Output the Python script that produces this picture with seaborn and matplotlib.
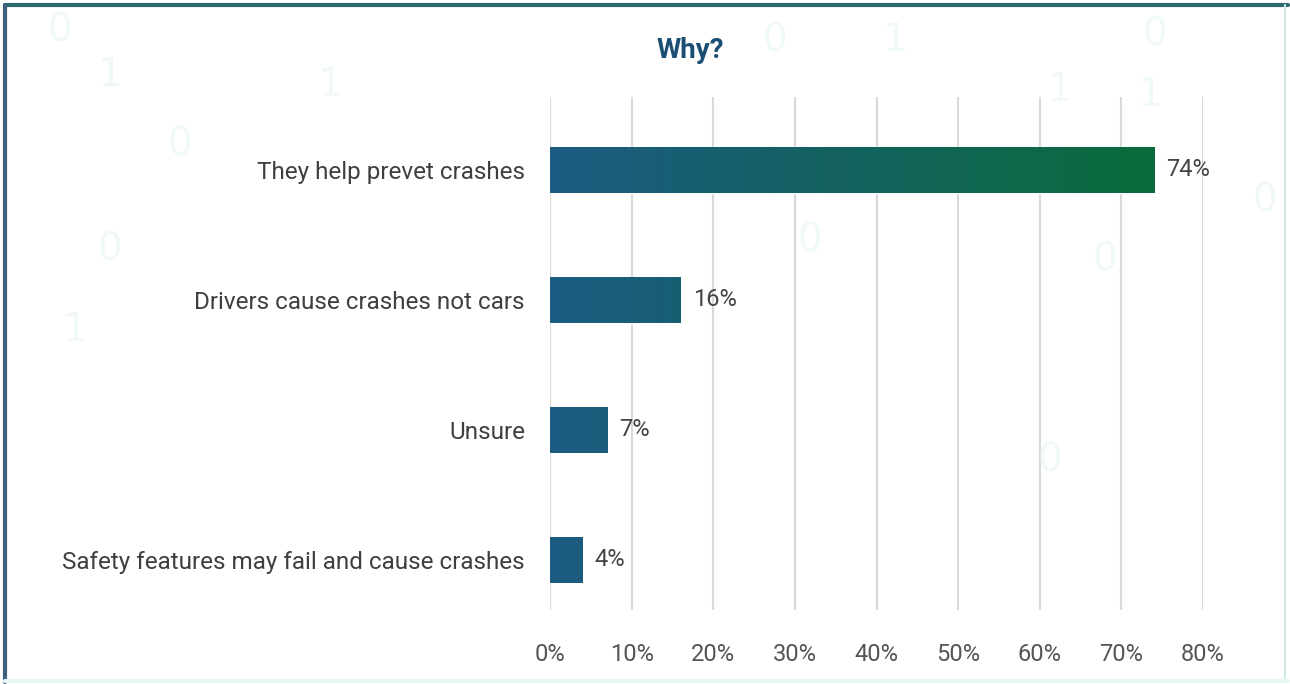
import numpy as np
import pandas as pd
import matplotlib
matplotlib.use("Agg")
import matplotlib.pyplot as plt
from matplotlib.colors import LinearSegmentedColormap
from matplotlib.lines import Line2D
import seaborn as sns

# Survey answers and shares (%)
reasons = [
    "They help prevet crashes",
    "Drivers cause crashes not cars",
    "Unsure",
    "Safety features may fail and cause crashes",
]
shares = [74, 16, 7, 4]
tick_values = [0, 10, 20, 30, 40, 50, 60, 70, 80]
tick_labels = ["0%", "10%", "20%", "30%", "40%", "50%", "60%", "70%", "80%"]
title = "Why?"

df = pd.DataFrame({"reason": reasons, "share": shares})

sns.set_theme(style="white")
plt.rcParams["font.family"] = ["Roboto", "DejaVu Sans"]

fig = plt.figure(figsize=(12.9, 6.84), dpi=100)
fig.patch.set_facecolor("white")
ax = fig.add_axes([550 / 1290, 74 / 684, 653 / 1290, 513 / 684])

# faint binary digits in the background
digits = [("0", 60, 30), ("1", 110, 75), ("0", 180, 145), ("1", 330, 85),
          ("0", 110, 250), ("0", 775, 40), ("1", 895, 40), ("0", 1155, 35),
          ("1", 1150, 95), ("0", 1265, 200), ("0", 1105, 260), ("1", 75, 330),
          ("0", 810, 240), ("1", 1060, 90), ("0", 1050, 460)]
for d, px, py in digits:
    fig.text(px / 1290, 1 - py / 684, d, fontsize=28, color="#f0f9f7",
             ha="center", va="center", zorder=0, family=["DejaVu Sans"])

bar_color = "#1d5e80"
sns.barplot(data=df, x="share", y="reason", orient="h", color=bar_color,
            width=0.35, saturation=1, ax=ax, zorder=3)

# blue-to-green gradient along the x axis, clipped to each bar
cmap = LinearSegmentedColormap.from_list("bg", ["#1c5b82", "#0a6b3b"])
grad = np.linspace(0, 1, 256).reshape(1, -1)
vmax = max(shares)
for patch in ax.patches:
    y0 = patch.get_y()
    h = patch.get_height()
    im = ax.imshow(grad, cmap=cmap, aspect="auto",
                   extent=[0, vmax, y0 + h, y0], zorder=4)
    im.set_clip_path(patch)

for i, v in enumerate(shares):
    ax.text(v + 1.5, i, f"{v}%", va="center", ha="left", fontsize=17,
            color="#444444", zorder=5)

ax.set_xlim(0, 80)
ax.set_ylim(3.385, -0.56)
ax.set_xticks(tick_values)
ax.set_xticklabels(tick_labels, fontsize=17, color="#555555")
ax.tick_params(axis="x", length=0, pad=24)
ax.tick_params(axis="y", length=0, pad=18, labelsize=17.5, labelcolor="#3f3f3f")
ax.set_xlabel("")
ax.set_ylabel("")
ax.xaxis.grid(True, color="#d9d9d9", linewidth=1.5, zorder=0)
ax.set_axisbelow(True)
for s in ax.spines.values():
    s.set_visible(False)
ax.set_facecolor("none")

fig.text(690 / 1290, 1 - 50 / 684, title, ha="center", va="center",
         fontsize=20, fontweight="bold", color="#1a4f73")

# panel frame
fig.add_artist(Line2D([5 / 1290, 1288 / 1290], [1 - 5 / 684] * 2,
                      transform=fig.transFigure, color="#2a6a70", lw=3))
fig.add_artist(Line2D([5 / 1290] * 2, [2 / 684, 1 - 5 / 684],
                      transform=fig.transFigure, color="#3e6078", lw=3))
fig.add_artist(Line2D([1285 / 1290] * 2, [2 / 684, 1 - 5 / 684],
                      transform=fig.transFigure, color="#cfe8e4", lw=1.5))
fig.add_artist(Line2D([5 / 1290, 1288 / 1290], [3 / 684] * 2,
                      transform=fig.transFigure, color="#e6f6f4", lw=3))

fig.savefig("out.png", dpi=100, facecolor="white")
